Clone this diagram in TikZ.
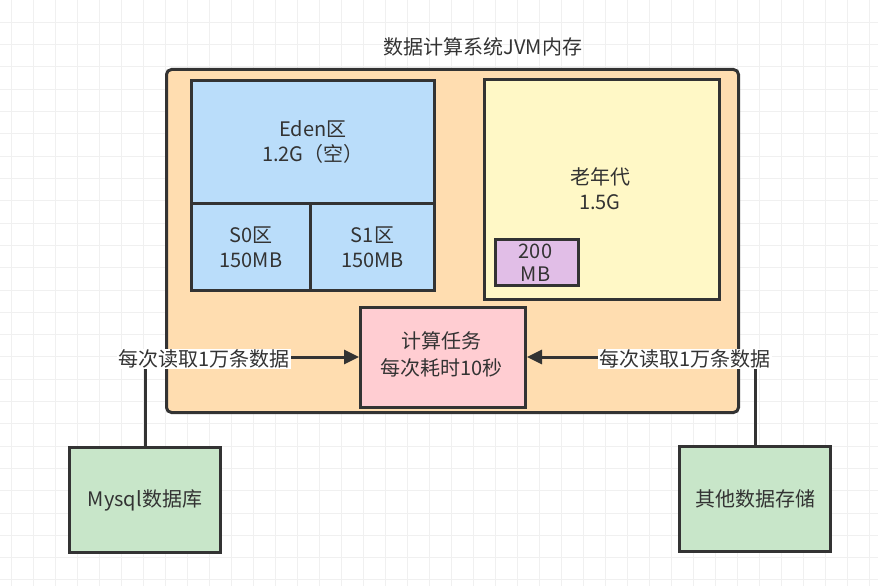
\documentclass[tikz,border=0pt]{standalone}
\usepackage{fontspec}
\setmainfont{Noto Sans CJK SC}
\usetikzlibrary{arrows.meta}
\definecolor{edge}{HTML}{333333}
\definecolor{orangef}{HTML}{FFDDB0}
\definecolor{bluef}{HTML}{BADDFA}
\definecolor{yellowf}{HTML}{FFF8C6}
\definecolor{purplef}{HTML}{E1BEE7}
\definecolor{pinkf}{HTML}{FFCDD2}
\definecolor{greenf}{HTML}{C8E6C9}
\definecolor{gridc}{HTML}{F0F0F0}
\tikzset{
  box/.style={draw=edge, line width=3pt, text=edge, align=center, inner sep=0pt, font=\fontsize{20}{25}\selectfont},
  txt/.style={text=edge, align=center, font=\fontsize{20}{25}\selectfont},
  lbl/.style={fill=white, text=edge, inner sep=1pt, font=\fontsize{20}{22}\selectfont},
  conn/.style={draw=edge, line width=3pt},
  arr/.style={conn, -{Triangle[length=15pt,width=14pt]}}
}
\begin{document}
\begin{tikzpicture}[x=1pt,y=-1pt]
\useasboundingbox (0,0) rectangle (878,586);
\fill[white] (0,0) rectangle (878,586);
\foreach \i in {0,...,39} \draw[gridc, line width=0.8pt] (11+22*\i,0) -- (11+22*\i,586);
\foreach \i in {1,...,26} \draw[gridc, line width=0.8pt] (0,22.3*\i) -- (878,22.3*\i);
% title
\node[txt] (title) at (483,47) {数据计算系统JVM内存};
% outer jvm box
\node[box, fill=orangef, rounded corners=5pt, minimum width=572pt, minimum height=343pt, anchor=north west] (jvm) at (165,68) {};
% eden
\node[box, fill=bluef, minimum width=243pt, minimum height=123pt, anchor=north west] (eden) at (190,79) {Eden区\\1.2G（空）};
\node[box, fill=bluef, minimum width=119pt, minimum height=87pt, anchor=north west] (s0) at (190,202) {S0区\\150MB};
\node[box, fill=bluef, minimum width=124pt, minimum height=87pt, anchor=north west] (s1) at (309,202) {S1区\\150MB};
% old gen
\node[box, fill=yellowf, minimum width=235pt, minimum height=220pt, anchor=north west] (old) at (483,78) {};
\node[txt] (oldtxt) at (600,189) {老年代\\1.5G};
\node[box, fill=purplef, minimum width=83pt, minimum height=46pt, anchor=north west] (mb) at (494,238) {};
\node[txt, font=\fontsize{20}{23}\selectfont] (mbtxt) at (535.5,263) {200\\MB};
% task
\node[box, fill=pinkf, minimum width=165pt, minimum height=100pt, anchor=north west] (task) at (359,306) {};
\node[txt, font=\fontsize{20}{27}\selectfont] (tasktxt) at (441.5,354) {计算任务\\每次耗时10秒};
% storages
\node[box, fill=greenf, minimum width=151pt, minimum height=105pt, anchor=north west] (mysql) at (68,446) {Mysql数据库};
\node[box, fill=greenf, minimum width=151pt, minimum height=105pt, anchor=north west] (other) at (678,445) {其他数据存储};
% connectors
\coordinate (tl) at (task.west |- 0,357);
\coordinate (tr) at (task.east |- 0,357);
\draw[arr] (mysql.north) |- (tl);
\draw[arr] (other.north) |- (tr);
\node[lbl] (l1) at (204,359) {每次读取1万条数据};
\node[lbl] (l2) at (685,359) {每次读取1万条数据};
\end{tikzpicture}
\end{document}
